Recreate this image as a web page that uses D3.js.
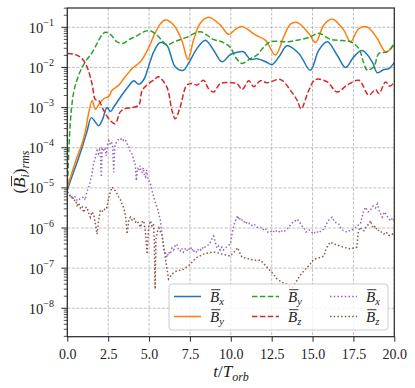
<!DOCTYPE html>
<html><head><meta charset="utf-8">
<script src="https://cdn.jsdelivr.net/npm/d3@7"></script>
<style>body{margin:0;background:#fff} svg{display:block}</style>
</head><body><svg id="c" width="415" height="388"></svg>
<script>
// ---------- data (values stored as log10 of (B_i)_rms) ----------
const xTicks = [0, 2.5, 5, 7.5, 10, 12.5, 15, 17.5, 20];
const yTickExps = [-8, -7, -6, -5, -4, -3, -2, -1];
const legendSubs = ["x", "y", "y", "z", "x", "z"];

const bxT   = [0,0.3,0.6,0.9,1.2,1.47,1.7,1.92,2.15,2.43,2.64,2.85,3.05,3.35,3.76,4.07,4.37,4.68,4.99,5.3,5.68,6.09,6.6,7.1,7.41,7.93,8.44,8.95,9.46,9.97,10.4,10.78,11.2,11.6,12.1,12.52,13.0,13.44,14.16,14.87,15.38,15.9,16.5,17.02,17.53,18.04,18.65,18.96,19.36,19.67,20];
const bxLog = [-5.05,-4.7,-4.36,-4.0,-3.6,-3.25,-3.35,-3.45,-3.3,-3.0,-3.1,-2.98,-2.86,-2.68,-2.46,-2.33,-2.42,-2.3,-1.95,-1.6,-1.38,-1.45,-1.98,-2.07,-1.9,-1.53,-1.32,-1.57,-1.86,-1.68,-1.62,-1.61,-1.8,-1.78,-1.85,-1.93,-1.7,-1.46,-1.65,-2.07,-1.57,-1.36,-1.69,-2.0,-1.73,-1.58,-1.86,-2.13,-2.05,-2.03,-1.88];

const byT   = [0,0.3,0.6,0.9,1.1,1.3,1.52,1.72,1.92,2.23,2.54,2.74,3.15,3.45,3.96,4.47,4.99,5.3,5.68,5.99,6.5,7.0,7.38,7.72,8.13,8.64,9.36,9.87,10.28,10.69,11.5,12.11,12.73,13.24,13.65,14.06,14.77,15.18,15.69,16.2,16.91,17.32,17.83,18.35,18.96,19.47,20];
const byLog = [-5.0,-4.6,-4.23,-3.9,-3.6,-3.15,-2.82,-3.05,-2.92,-2.78,-2.72,-2.57,-2.44,-2.28,-2.03,-1.86,-1.5,-1.2,-0.92,-0.82,-0.94,-1.32,-1.8,-1.32,-0.9,-0.75,-0.94,-1.18,-1.05,-0.98,-1.19,-1.32,-1.69,-1.23,-0.92,-0.88,-1.15,-1.38,-0.94,-0.79,-1.07,-1.36,-1.03,-0.99,-1.28,-1.61,-1.44];

const by2T   = [0,0.08,0.15,0.25,0.4,0.6,0.9,1.2,1.5,1.8,2.1,2.33,2.7,3.0,3.4,3.8,4.3,4.76,5.07,5.5,6.09,6.6,7.3,8.13,8.93,9.5,9.97,10.3,10.69,11.2,11.6,12.0,12.42,13.44,14.06,14.8,15.38,16.1,16.8,17.32,17.83,18.1,18.35,18.75,19.06,19.57,20];
const by2Log = [-5.1,-4.2,-3.6,-3.05,-2.6,-2.3,-2.0,-1.8,-1.64,-1.42,-1.2,-1.12,-1.2,-1.35,-1.4,-1.3,-1.2,-1.1,-1.085,-1.2,-1.43,-1.35,-1.25,-1.11,-1.3,-1.37,-1.5,-1.75,-1.9,-1.78,-1.69,-1.5,-1.36,-1.36,-1.32,-1.25,-1.15,-1.3,-1.33,-1.36,-1.53,-1.85,-2.07,-1.98,-1.65,-1.61,-1.4];

const bzT   = [0,0.49,0.9,1.2,1.51,1.72,1.92,2.2,2.62,2.92,3.25,3.5,3.96,4.37,4.58,4.99,5.39,5.58,6.09,6.4,6.6,6.9,7.31,7.62,7.93,8.33,8.64,8.95,9.36,9.97,10.38,10.69,11.1,11.4,11.81,12.22,13.03,13.65,14.06,14.3,14.77,15.18,15.9,16.5,17.12,17.83,18.44,18.85,19.06,19.47,19.73,20];
const bzLog = [-1.65,-1.68,-1.78,-1.98,-2.4,-2.8,-2.82,-3.05,-3.32,-3.4,-3.1,-3.03,-3.0,-2.94,-2.57,-2.4,-2.28,-2.23,-2.49,-3.07,-3.28,-2.99,-2.44,-2.4,-2.44,-2.32,-2.53,-2.61,-2.4,-2.38,-2.4,-2.55,-2.33,-2.48,-2.33,-2.38,-2.3,-2.57,-2.82,-3.03,-2.57,-2.3,-2.36,-2.61,-2.44,-2.32,-2.69,-2.55,-2.65,-2.36,-2.47,-2.36];

const bx2T   = [0,0.15,0.3,0.45,0.6,0.75,0.9,1.0,1.1,1.2,1.31,1.4,1.51,1.6,1.72,1.82,1.9,1.97,2.02,2.08,2.13,2.2,2.3,2.38,2.45,2.54,2.62,2.7,2.78,2.84,2.9,2.94,3.05,3.15,3.25,3.35,3.45,3.56,3.65,3.75,3.85,3.96,4.07,4.15,4.22,4.3,4.37,4.45,4.52,4.58,4.65,4.72,4.78,4.85,4.95,5.09,5.2,5.29,5.4,5.5,5.6,5.7,5.8,5.88,6.0,6.09,6.2,6.29,6.4,6.5,6.6,6.7,6.8,6.9,7.0,7.1,7.21,7.3,7.4,7.52,7.6,7.7,7.8,7.93,8.03,8.13,8.25,8.35,8.44,8.54,8.7,8.8,8.95,9.05,9.15,9.25,9.35,9.45,9.55,9.66,9.8,9.97,10.1,10.17,10.3,10.42,10.5,10.6,10.78,10.9,11.0,11.2,11.3,11.45,11.6,11.81,11.95,12.1,12.25,12.42,12.55,12.7,12.93,13.03,13.2,13.44,13.6,13.8,13.95,14.06,14.2,14.35,14.46,14.6,14.8,15.07,15.2,15.4,15.55,15.69,15.85,16.0,16.2,16.35,16.6,16.8,17.0,17.12,17.3,17.53,17.7,17.93,18.1,18.24,18.4,18.55,18.7,18.85,18.96,19.1,19.26,19.4,19.55,19.77,19.9,20];
const bx2Log = [-5.1,-5.18,-5.25,-5.2,-5.32,-5.28,-5.25,-5.22,-5.3,-5.1,-4.98,-4.85,-4.65,-4.4,-4.23,-4.07,-4.15,-4.05,-4.11,-4.73,-4.03,-4.08,-4.0,-4.2,-3.95,-3.82,-3.9,-3.85,-4.0,-4.61,-4.0,-3.9,-3.85,-3.78,-3.8,-3.76,-3.82,-3.8,-3.9,-3.95,-4.1,-4.15,-4.32,-4.4,-4.82,-4.5,-4.57,-4.45,-4.6,-4.61,-4.5,-4.7,-4.73,-4.55,-4.8,-4.9,-5.1,-5.23,-5.4,-5.48,-5.65,-5.82,-6.2,-6.49,-6.6,-6.73,-6.6,-6.65,-6.5,-6.55,-6.44,-6.4,-6.55,-6.57,-6.5,-6.6,-6.52,-6.58,-6.5,-6.55,-6.48,-6.6,-6.55,-6.61,-6.52,-6.55,-6.48,-6.52,-6.46,-6.44,-6.4,-6.3,-6.2,-6.35,-6.5,-6.45,-6.55,-6.48,-6.55,-6.5,-6.45,-6.4,-6.1,-5.95,-5.8,-5.69,-5.8,-5.75,-5.86,-5.82,-5.9,-5.88,-5.95,-5.92,-5.98,-5.98,-6.05,-6.0,-6.1,-6.07,-6.12,-6.05,-6.11,-6.05,-6.1,-6.03,-5.95,-5.85,-5.82,-5.78,-5.85,-5.95,-5.98,-6.1,-6.05,-6.15,-6.08,-6.12,-6.05,-6.03,-5.9,-5.8,-5.73,-5.85,-5.9,-6.05,-6.08,-6.11,-6.05,-6.03,-5.95,-5.9,-5.6,-5.48,-5.6,-5.55,-5.45,-5.5,-5.4,-5.6,-5.73,-5.6,-5.7,-5.82,-5.75,-5.82];

const bz2T   = [0,0.1,0.2,0.3,0.39,0.5,0.6,0.7,0.8,0.9,1.0,1.1,1.2,1.3,1.41,1.5,1.61,1.72,1.82,1.92,2.02,2.12,2.23,2.33,2.43,2.54,2.64,2.74,2.84,2.94,3.05,3.15,3.25,3.35,3.45,3.56,3.66,3.76,3.86,3.96,4.07,4.17,4.27,4.37,4.47,4.58,4.68,4.78,4.88,4.98,5.09,5.18,5.27,5.32,5.37,5.42,5.5,5.6,5.7,5.78,5.88,5.99,6.09,6.19,6.3,6.4,6.55,6.7,6.9,7.1,7.3,7.52,7.7,7.93,8.1,8.33,8.5,8.74,8.95,9.15,9.3,9.46,9.7,9.97,10.2,10.42,10.55,10.69,10.9,11.2,11.5,11.81,12.0,12.22,12.42,12.6,12.83,13.05,13.25,13.44,13.6,13.75,13.9,14.06,14.16,14.3,14.46,14.67,14.85,15.07,15.3,15.5,15.69,15.85,16.0,16.1,16.3,16.5,16.7,16.9,17.1,17.32,17.5,17.7,17.8,17.9,18.05,18.14,18.3,18.45,18.55,18.7,18.85,18.96,19.1,19.25,19.36,19.5,19.65,19.77,19.9,20];
const bz2Log = [-5.1,-5.15,-5.25,-5.2,-5.32,-5.3,-5.44,-5.38,-5.5,-5.45,-5.61,-5.5,-5.48,-5.62,-5.73,-5.6,-5.65,-5.9,-6.15,-5.8,-5.57,-5.6,-5.52,-5.55,-5.48,-5.23,-5.1,-4.98,-5.05,-5.07,-5.15,-5.23,-5.3,-5.4,-5.5,-5.69,-6.15,-5.8,-5.73,-5.8,-5.75,-5.85,-5.82,-5.9,-5.98,-5.85,-5.82,-6.1,-6.65,-5.95,-5.82,-5.95,-5.9,-6.3,-7.52,-6.3,-6.1,-6.0,-6.1,-6.15,-6.4,-6.73,-7.0,-7.27,-7.2,-7.15,-7.1,-7.07,-7.05,-7.03,-6.97,-6.9,-6.82,-6.73,-6.7,-6.65,-6.63,-6.61,-6.6,-6.61,-6.63,-6.65,-6.67,-6.7,-6.6,-6.49,-6.62,-6.73,-6.75,-6.78,-6.8,-6.8,-6.88,-6.98,-7.07,-7.15,-7.27,-7.33,-7.38,-7.4,-7.45,-7.48,-7.4,-7.3,-7.23,-7.15,-7.07,-6.98,-6.9,-6.78,-6.75,-6.73,-6.7,-6.5,-6.4,-6.35,-6.4,-6.42,-6.45,-6.48,-6.5,-6.52,-6.5,-6.48,-6.1,-5.98,-6.05,-6.07,-5.95,-5.9,-5.82,-6.0,-5.95,-6.07,-6.05,-6.12,-6.15,-6.1,-6.18,-6.19,-6.15,-6.19];

// ---------- layout ----------
const svg = d3.select("#c");
const L = 67.3, R = 394.3, T = 8, B = 336.7;
const x = d3.scaleLinear().domain([0, 20]).range([L, R]);
const y = d3.scaleLog().domain([1.96e-9, 0.303]).range([B, T]);
const serif = "Liberation Serif";

svg.append("defs").append("clipPath").attr("id", "clip")
  .append("rect").attr("x", L).attr("y", T).attr("width", R - L).attr("height", B - T);

// grid
const grid = svg.append("g").attr("stroke", "#b0b0b0").attr("stroke-width", 0.8).attr("stroke-dasharray", "3,1.5");
xTicks.forEach(t => grid.append("line").attr("x1", x(t)).attr("x2", x(t)).attr("y1", T).attr("y2", B));
yTickExps.forEach(e => grid.append("line").attr("x1", L).attr("x2", R).attr("y1", y(Math.pow(10, e))).attr("y2", y(Math.pow(10, e))));

// series
const series = [
  {t: bxT, v: bxLog, color: "#1f77b4", dash: null, curve: d3.curveCatmullRom.alpha(0.5)},
  {t: byT, v: byLog, color: "#ff7f0e", dash: null, curve: d3.curveCatmullRom.alpha(0.5)},
  {t: by2T, v: by2Log, color: "#2ca02c", dash: "5.5,2.4", curve: d3.curveCatmullRom.alpha(0.5)},
  {t: bzT, v: bzLog, color: "#d62728", dash: "5.5,2.4", curve: d3.curveCatmullRom.alpha(0.5)},
  {t: bx2T, v: bx2Log, color: "#9467bd", dash: "1.5,2.2", curve: d3.curveLinear},
  {t: bz2T, v: bz2Log, color: "#8c564b", dash: "1.5,2.2", curve: d3.curveLinear}
];
const plot = svg.append("g").attr("clip-path", "url(#clip)");
series.forEach(s => {
  const pts = s.t.map((tt, i) => [tt, Math.pow(10, s.v[i])]);
  const line = d3.line().x(d => x(d[0])).y(d => y(d[1])).curve(s.curve);
  plot.append("path").attr("d", line(pts)).attr("fill", "none")
    .attr("stroke", s.color).attr("stroke-width", 1.5)
    .attr("stroke-dasharray", s.dash);
});

// spines
svg.append("rect").attr("x", L).attr("y", T).attr("width", R - L).attr("height", B - T)
  .attr("fill", "none").attr("stroke", "#262626").attr("stroke-width", 1.2);

// x axis ticks
const xAxis = d3.axisBottom(x).tickValues(xTicks).tickFormat(d3.format(".1f")).tickSize(5).tickPadding(4);
const gx = svg.append("g").attr("transform", `translate(0,${B})`).call(xAxis);
gx.attr("font-family", serif);
gx.select(".domain").remove();
gx.selectAll(".tick line").attr("stroke", "#262626").attr("stroke-width", 1);
gx.selectAll(".tick text").attr("font-family", serif).attr("font-size", 14).attr("fill", "#222").attr("dy", "0.95em");

// y axis ticks (log minor + major)
const gy = svg.append("g");
for (let e = -9; e <= 0; e++) {
  for (let m = 1; m <= 9; m++) {
    const v = m * Math.pow(10, e);
    if (v < y.domain()[0] || v > y.domain()[1]) continue;
    const len = m === 1 ? 6 : 3.5;
    gy.append("line").attr("x1", L - len).attr("x2", L).attr("y1", y(v)).attr("y2", y(v))
      .attr("stroke", "#262626").attr("stroke-width", m === 1 ? 1 : 0.8);
  }
}
yTickExps.forEach(e => {
  const tx = gy.append("text").attr("x", 54).attr("y", y(Math.pow(10, e)) + 5.5)
    .attr("text-anchor", "end").attr("font-family", serif).attr("fill", "#222");
  tx.append("tspan").attr("font-size", 14.5).text("10");
  tx.append("tspan").attr("font-size", 10).attr("dy", -7).text("\u2212" + Math.abs(e));
});

// helper: overline above a character of a text element
function overline(textSel, idx, pad, shift) {
  const node = textSel.node();
  const ext = node.getExtentOfChar(idx);
  textSel.select(function(){ return this.parentNode; }).append("line")
    .attr("x1", ext.x + shift).attr("x2", ext.x + ext.width + shift)
    .attr("y1", ext.y + pad).attr("y2", ext.y + pad)
    .attr("stroke", "#222").attr("stroke-width", 0.9);
}

// x label
const xl = svg.append("g");
const xlt = xl.append("text").attr("x", 231).attr("y", 377).attr("text-anchor", "middle")
  .attr("font-family", serif).attr("font-size", 17).attr("fill", "#222");
xlt.append("tspan").attr("font-style", "italic").text("t");
xlt.append("tspan").text("/");
xlt.append("tspan").attr("font-style", "italic").text("T");
xlt.append("tspan").attr("font-style", "italic").attr("font-size", 12).attr("dy", 3.5).text("orb");

// y label
const yl = svg.append("g").attr("transform", "translate(25,172) rotate(-90)");
const ylt = yl.append("text").attr("x", 0).attr("y", 0).attr("text-anchor", "middle")
  .attr("font-family", serif).attr("font-size", 17).attr("fill", "#222");
ylt.append("tspan").text("(");
ylt.append("tspan").attr("font-style", "italic").text("B");
ylt.append("tspan").attr("font-style", "italic").attr("font-size", 12).attr("dy", 3.5).text("i");
ylt.append("tspan").attr("dy", -3.5).text(")");
ylt.append("tspan").attr("font-style", "italic").attr("font-size", 12).attr("dy", 3.5).text("rms");
overline(ylt, 1, 1.5, 1.5);

// legend
const lg = svg.append("g");
lg.append("rect").attr("x", 169).attr("y", 284).attr("width", 219).attr("height", 46).attr("rx", 3)
  .attr("fill", "#fff").attr("fill-opacity", 0.8).attr("stroke", "#cccccc").attr("stroke-width", 1);
const colX = [174, 252, 330];
const rowY = [296.5, 316.5];
series.forEach((s, i) => {
  const cx = colX[Math.floor(i / 2)], cy = rowY[i % 2];
  lg.append("line").attr("x1", cx).attr("x2", cx + 27).attr("y1", cy).attr("y2", cy)
    .attr("stroke", s.color).attr("stroke-width", 1.5).attr("stroke-dasharray", s.dash);
  const tx = lg.append("text").attr("x", cx + 36).attr("y", cy + 5).attr("font-family", serif)
    .attr("font-size", 15).attr("fill", "#222");
  tx.append("tspan").attr("font-style", "italic").text("B");
  tx.append("tspan").attr("font-style", "italic").attr("font-size", 10.5).attr("dy", 3).text(legendSubs[i]);
  overline(tx, 0, 1.2, 1.2);
});
</script>
</body></html>
